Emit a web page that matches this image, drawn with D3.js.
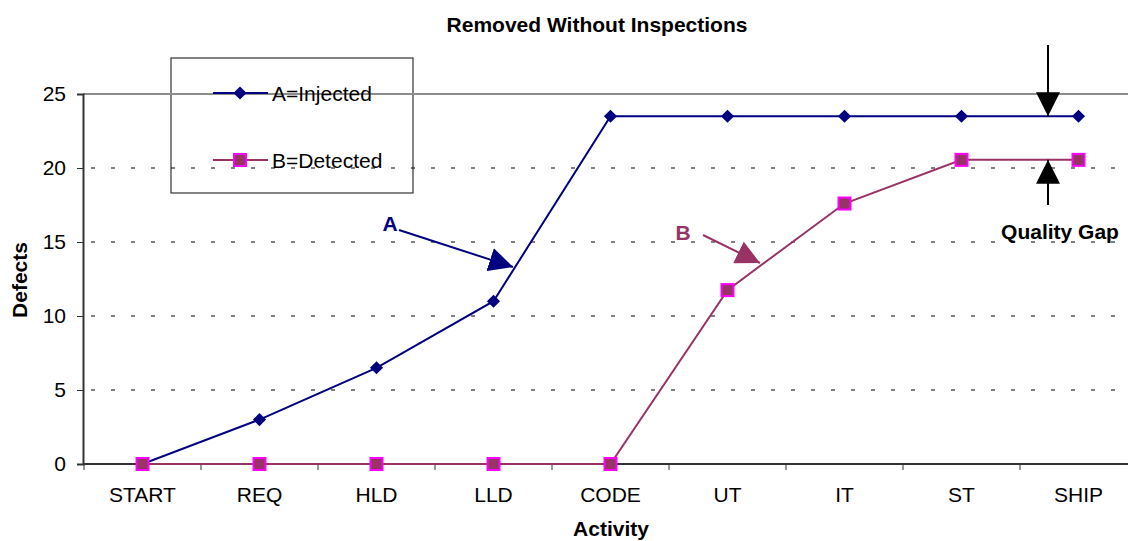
<!DOCTYPE html>
<html>
<head>
<meta charset="utf-8">
<script src="https://cdn.jsdelivr.net/npm/d3@7"></script>
<style>
  body { margin: 0; background: #fff; }
  svg { font-family: "Liberation Sans", Arial, sans-serif; }
</style>
</head>
<body>
<svg id="chart" width="1128" height="541"></svg>
<script>
// activities along the x axis
const activities = ["START", "REQ", "HLD", "LLD", "CODE", "UT", "IT", "ST", "SHIP"]
// A = defects injected, B = defects detected
const injected = [0, 3, 6.5, 11, 23.5, 23.5, 23.5, 23.5, 23.5]
const detected = [0, 0, 0, 0, 0, 11.75, 17.6, 20.55, 20.55]
const yTicks = [0, 5, 10, 15, 20, 25]

const svg = d3.select("#chart")
const margin = {top: 94, left: 83, bottom: 77}
const plotRight = 1137
const height = 541 - margin.top - margin.bottom
const fontSize = "21px"

const x = d3.scaleBand()
	.domain(activities)
	.range([margin.left + 1, plotRight])

const y = d3.scaleLinear()
	.domain([0, 25])
	.range([margin.top + height, margin.top])

const cx = d => x(d) + x.bandwidth() / 2

// title
svg.append("text")
	.attr("x", 597)
	.attr("y", 32)
	.attr("text-anchor", "middle")
	.style("font-weight", "bold")
	.style("font-size", fontSize)
	.text("Removed Without Inspections")

// gridlines
svg.append("g")
	.selectAll("line")
	.data(yTicks.filter(t => t > 0 && t < 25))
	.enter()
	.append("line")
		.attr("x1", margin.left)
		.attr("x2", plotRight)
		.attr("y1", d => y(d))
		.attr("y2", d => y(d))
		.attr("stroke", "#000")
		.attr("stroke-width", 1)
		.attr("stroke-dasharray", "4,16")
		.attr("stroke-dashoffset", -8)

// top border of plot
svg.append("line")
	.attr("x1", margin.left)
	.attr("x2", plotRight)
	.attr("y1", y(25))
	.attr("y2", y(25))
	.attr("stroke", "#8c8c8c")
	.attr("stroke-width", 2)

// y axis
const yAxis = svg.append("g")
	.attr("transform", `translate(${margin.left},0)`)
	.call(d3.axisLeft(y).tickValues(yTicks).tickSize(6).tickPadding(11))
yAxis.select(".domain").attr("stroke", "#333").attr("stroke-width", 2)
yAxis.selectAll(".tick line").attr("stroke", "#333")
yAxis.selectAll("text")
	.style("font-size", fontSize)
	.attr("fill", "#000")
	.style("font-family", "Liberation Sans, Arial, sans-serif")

// x axis
const xAxis = svg.append("g")
	.attr("transform", `translate(0,${y(0)})`)
	.call(d3.axisBottom(x).tickSize(0).tickPadding(23))
xAxis.select(".domain").remove()
xAxis.selectAll("text")
	.style("font-size", fontSize)
	.attr("fill", "#000")
	.style("font-family", "Liberation Sans, Arial, sans-serif")

svg.append("line")
	.attr("x1", margin.left)
	.attr("x2", plotRight)
	.attr("y1", y(0))
	.attr("y2", y(0))
	.attr("stroke", "#333")
	.attr("stroke-width", 2)

// tick marks at band boundaries
svg.append("g")
	.selectAll("line")
	.data(activities)
	.enter()
	.append("line")
		.attr("x1", d => x(d))
		.attr("x2", d => x(d))
		.attr("y1", y(0))
		.attr("y2", y(0) + 6)
		.attr("stroke", "#333")

// axis titles
svg.append("text")
	.attr("transform", `translate(27,${y(12.5) + 1}) rotate(-90)`)
	.attr("text-anchor", "middle")
	.style("font-weight", "bold")
	.style("font-size", fontSize)
	.text("Defects")

svg.append("text")
	.attr("x", 611)
	.attr("y", 536)
	.attr("text-anchor", "middle")
	.style("font-weight", "bold")
	.style("font-size", fontSize)
	.text("Activity")

// lines
const line = d3.line()
	.x((d, i) => cx(activities[i]))
	.y(d => y(d))

svg.append("path")
	.datum(detected)
	.attr("d", line)
	.attr("fill", "none")
	.attr("stroke", "#993366")
	.attr("stroke-width", 2)

svg.append("path")
	.datum(injected)
	.attr("d", line)
	.attr("fill", "none")
	.attr("stroke", "#000080")
	.attr("stroke-width", 2)

const diamond = d3.symbol().type(d3.symbolDiamond2).size(110)

svg.append("g")
	.selectAll("path")
	.data(injected)
	.enter()
	.append("path")
		.attr("d", diamond)
		.attr("transform", (d, i) => `translate(${cx(activities[i])},${y(d)})`)
		.attr("fill", "#000080")

svg.append("g")
	.selectAll("rect")
	.data(detected)
	.enter()
	.append("rect")
		.attr("x", (d, i) => cx(activities[i]) - 6)
		.attr("y", d => y(d) - 6)
		.attr("width", 12)
		.attr("height", 12)
		.attr("fill", "#993366")
		.attr("stroke", "#ff00ff")
		.attr("stroke-width", 2)

// legend
svg.append("rect")
	.attr("x", 171)
	.attr("y", 58)
	.attr("width", 242)
	.attr("height", 135)
	.attr("fill", "#fff")
	.attr("stroke", "#333")
	.attr("stroke-width", 1.2)
	.lower()

const legendItems = [
	{label: "A=Injected", color: "#000080", marker: "diamond", ly: 93},
	{label: "B=Detected", color: "#993366", marker: "square", ly: 160}
]
legendItems.forEach(item => {
	svg.append("line")
		.attr("x1", 213).attr("x2", 268)
		.attr("y1", item.ly).attr("y2", item.ly)
		.attr("stroke", item.color)
		.attr("stroke-width", 2)
	if (item.marker === "diamond") {
		svg.append("path")
			.attr("d", diamond)
			.attr("transform", `translate(240,${item.ly})`)
			.attr("fill", item.color)
	} else {
		svg.append("rect")
			.attr("x", 234).attr("y", item.ly - 6)
			.attr("width", 12).attr("height", 12)
			.attr("fill", "#993366")
			.attr("stroke", "#ff00ff")
			.attr("stroke-width", 2)
	}
	svg.append("text")
		.attr("x", 272)
		.attr("y", item.ly + 8)
		.style("font-size", fontSize)
		.text(item.label)
})

// arrow heads
const defs = svg.append("defs")
function marker(id, color) {
	defs.append("marker")
		.attr("id", id)
		.attr("viewBox", "0 0 10 10")
		.attr("refX", 10)
		.attr("refY", 5)
		.attr("markerWidth", 24)
		.attr("markerHeight", 24)
		.attr("markerUnits", "userSpaceOnUse")
		.attr("orient", "auto")
		.append("path")
			.attr("d", "M0,0L10,5L0,10Z")
			.attr("fill", color)
}
marker("headA", "#000080")
marker("headB", "#993366")
marker("headK", "#000")

// annotation A
svg.append("text")
	.attr("x", 390).attr("y", 231)
	.attr("text-anchor", "middle")
	.attr("fill", "#000080")
	.style("font-weight", "bold")
	.style("font-size", fontSize)
	.text("A")
svg.append("line")
	.attr("x1", 399).attr("y1", 230)
	.attr("x2", 513).attr("y2", 267)
	.attr("stroke", "#000080")
	.attr("stroke-width", 2)
	.attr("marker-end", "url(#headA)")

// annotation B
svg.append("text")
	.attr("x", 683).attr("y", 240)
	.attr("text-anchor", "middle")
	.attr("fill", "#993366")
	.style("font-weight", "bold")
	.style("font-size", fontSize)
	.text("B")
svg.append("line")
	.attr("x1", 703).attr("y1", 235)
	.attr("x2", 760).attr("y2", 263)
	.attr("stroke", "#993366")
	.attr("stroke-width", 2)
	.attr("marker-end", "url(#headB)")

// quality gap
const gapX = 1048
svg.append("line")
	.attr("x1", gapX).attr("y1", 45)
	.attr("x2", gapX).attr("y2", y(injected[8]))
	.attr("stroke", "#000")
	.attr("stroke-width", 2)
	.attr("marker-end", "url(#headK)")
svg.append("line")
	.attr("x1", gapX).attr("y1", 205)
	.attr("x2", gapX).attr("y2", y(detected[8]))
	.attr("stroke", "#000")
	.attr("stroke-width", 2)
	.attr("marker-end", "url(#headK)")
svg.append("text")
	.attr("x", 1060).attr("y", 239)
	.attr("text-anchor", "middle")
	.style("font-weight", "bold")
	.style("font-size", fontSize)
	.text("Quality Gap")
</script>
</body>
</html>
